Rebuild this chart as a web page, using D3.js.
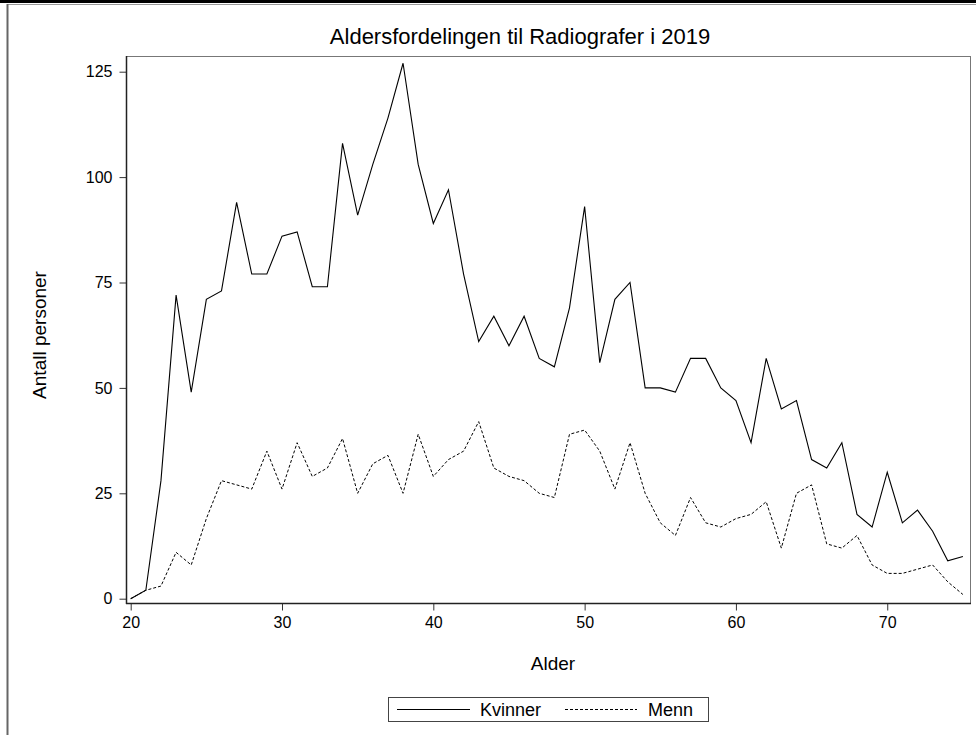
<!DOCTYPE html>
<html>
<head>
<meta charset="utf-8">
<script src="https://cdn.jsdelivr.net/npm/d3@7"></script>
<style>
  html, body { margin: 0; padding: 0; background: #fff; }
  svg { display: block; font-family: "Liberation Sans", Arial, sans-serif; }
</style>
</head>
<body>
<svg id="chart" width="976" height="735"></svg>
<script>
const ages = [20,21,22,23,24,25,26,27,28,29,30,31,32,33,34,35,36,37,38,39,40,41,42,43,44,45,46,47,48,49,50,51,52,53,54,55,56,57,58,59,60,61,62,63,64,65,66,67,68,69,70,71,72,73,74,75];
const kvinner = [0,2,28,72,49,71,73,94,77,77,86,87,74,74,108,91,103,114,127,103,89,97,77,61,67,60,67,57,55,69,93,56,71,75,50,50,49,57,57,50,47,37,57,45,47,33,31,37,20,17,30,18,21,16,9,10];
const menn = [0,2,3,11,8,19,28,27,26,35,26,37,29,31,38,25,32,34,25,39,29,33,35,42,31,29,28,25,24,39,40,35,26,37,25,18,15,24,18,17,19,20,23,12,25,27,13,12,15,8,6,6,7,8,4,1];
const xTicks = [20,30,40,50,60,70];
const yTicks = [0,25,50,75,100,125];
const seriesNames = ["Kvinner","Menn"];
const titleText = "Aldersfordelingen til Radiografer i 2019";
const xLabel = "Alder";
const yLabel = "Antall personer";

const svg = d3.select("#chart");

// outer image border
svg.append("rect").attr("x",0).attr("y",0).attr("width",976).attr("height",3).attr("fill","#000");
svg.append("line").attr("x1",7).attr("x2",976).attr("y1",4.5).attr("y2",4.5).attr("stroke","#999").attr("stroke-width",1);
svg.append("line").attr("x1",7.5).attr("x2",7.5).attr("y1",4).attr("y2",735).attr("stroke","#666").attr("stroke-width",2);

const frame = {left:126, top:56, right:970, bottom:603};

const x = d3.scaleLinear().domain([20,75]).range([130.7, 962.9]);
const y = d3.scaleLinear().domain([0,125]).range([598.7, 71.7]);

// plot frame
svg.append("rect")
  .attr("x",frame.left+0.5).attr("y",frame.top+0.5)
  .attr("width",frame.right-frame.left).attr("height",frame.bottom-frame.top)
  .attr("fill","none").attr("stroke","#777").attr("stroke-width",1);

// axes
const xAxis = d3.axisBottom(x).tickValues(xTicks).tickSize(7).tickPadding(6).tickFormat(d3.format("d"));
const yAxis = d3.axisLeft(y).tickValues(yTicks).tickSize(7).tickPadding(7).tickFormat(d3.format("d"));

const gx = svg.append("g").attr("transform",`translate(0,${frame.bottom+0.5})`).call(xAxis);
gx.select(".domain").remove();
gx.append("line").attr("x1",frame.left).attr("x2",frame.right+1).attr("y1",0).attr("y2",0).attr("stroke","#222").attr("stroke-width",1.5);
gx.selectAll(".tick line").attr("stroke","#333");
gx.selectAll(".tick text").attr("font-size",16).attr("fill","#000").attr("font-family","Liberation Sans, Arial, sans-serif");

const gy = svg.append("g").attr("transform",`translate(${frame.left+0.5},0)`).call(yAxis);
gy.select(".domain").remove();
gy.append("line").attr("x1",0).attr("x2",0).attr("y1",frame.top).attr("y2",frame.bottom+1).attr("stroke","#222").attr("stroke-width",1.5);
gy.selectAll(".tick line").attr("stroke","#333");
gy.selectAll(".tick text").attr("font-size",16).attr("fill","#000").attr("font-family","Liberation Sans, Arial, sans-serif");

// lines
const line = d3.line().x((d,i)=>x(ages[i])).y(d=>y(d));
svg.append("path").datum(kvinner).attr("d",line).attr("fill","none").attr("stroke","#000").attr("stroke-width",1.1);
svg.append("path").datum(menn).attr("d",line).attr("fill","none").attr("stroke","#000").attr("stroke-width",1).attr("stroke-dasharray","3,2");

// title & labels
svg.append("text").attr("x",520).attr("y",44).attr("text-anchor","middle").attr("font-size",22).text(titleText);
svg.append("text").attr("x",553).attr("y",670).attr("text-anchor","middle").attr("font-size",19).text(xLabel);
svg.append("text").attr("transform","translate(46,335) rotate(-90)").attr("text-anchor","middle").attr("font-size",19).text(yLabel);

// legend
const lg = svg.append("g");
lg.append("rect").attr("x",388.5).attr("y",697.5).attr("width",320).attr("height",24).attr("fill","none").attr("stroke","#444").attr("stroke-width",1);
lg.append("line").attr("x1",397).attr("x2",470).attr("y1",709.5).attr("y2",709.5).attr("stroke","#000").attr("stroke-width",1.1);
lg.append("text").attr("x",480).attr("y",716).attr("font-size",18).text(seriesNames[0]);
lg.append("line").attr("x1",565).attr("x2",637).attr("y1",709.5).attr("y2",709.5).attr("stroke","#000").attr("stroke-width",1).attr("stroke-dasharray","3,2");
lg.append("text").attr("x",648).attr("y",716).attr("font-size",18).text(seriesNames[1]);
</script>
</body>
</html>
